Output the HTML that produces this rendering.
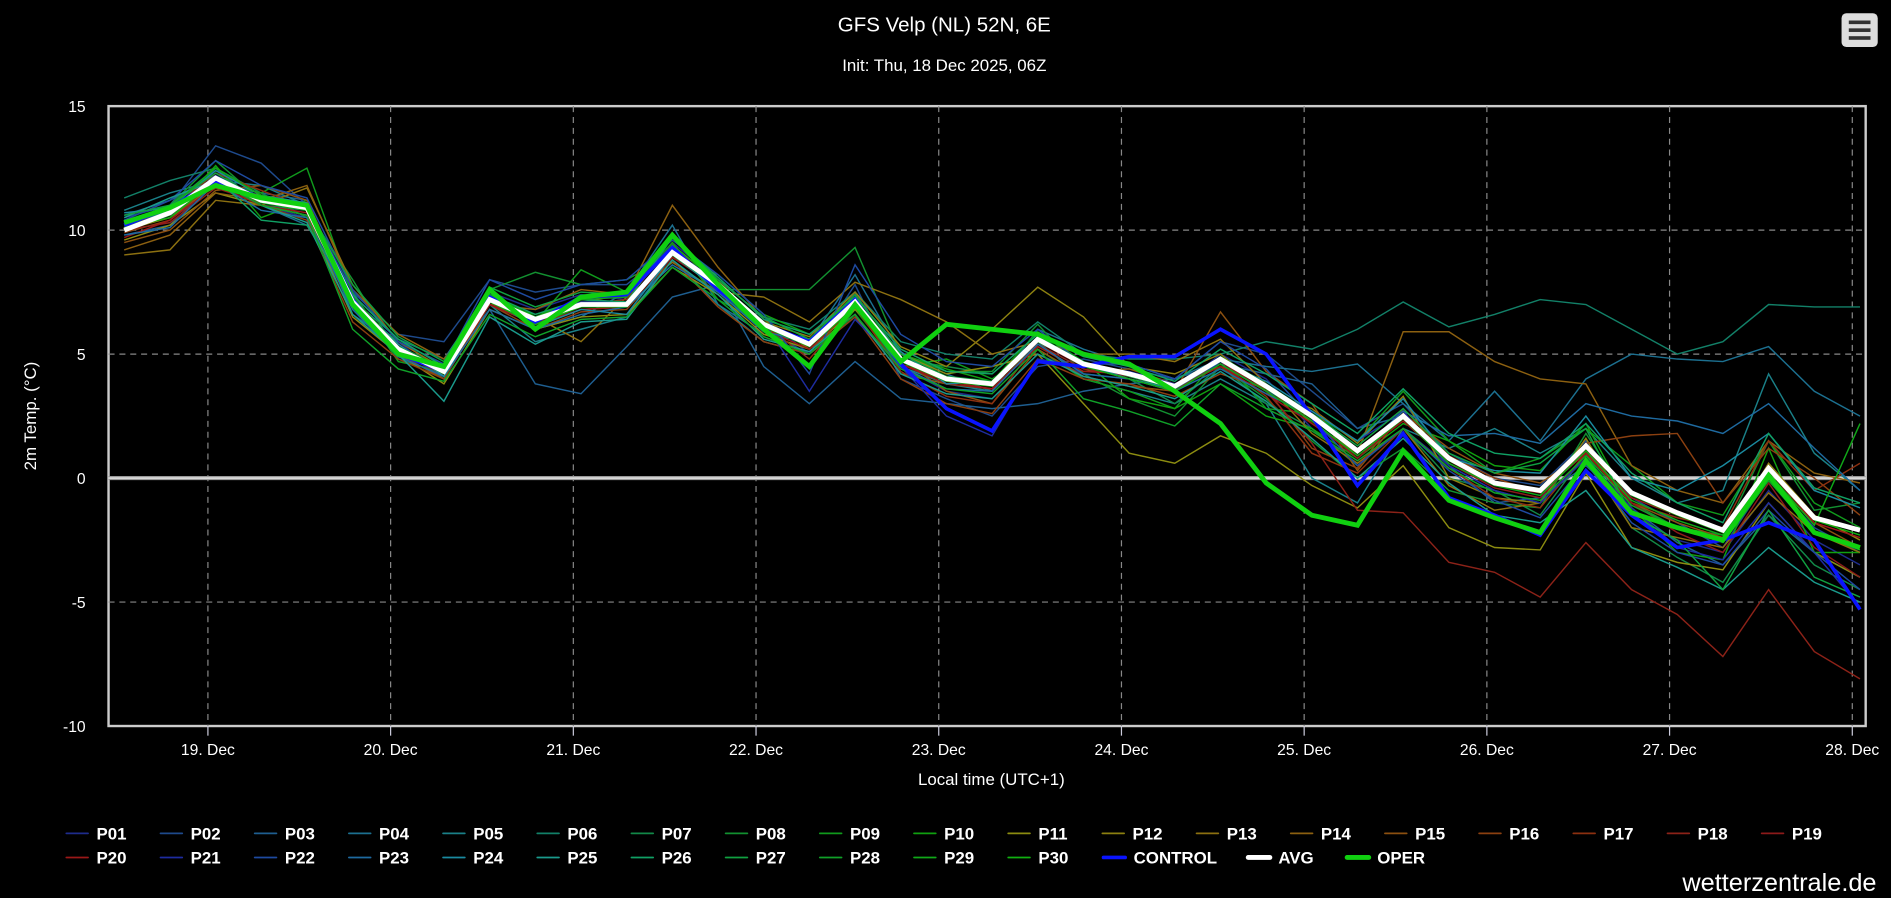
<!DOCTYPE html>
<html><head><meta charset="utf-8"><style>
html,body{margin:0;padding:0;background:#000;width:1891px;height:898px;overflow:hidden}
svg{display:block;font-family:"Liberation Sans",sans-serif}
</style></head><body>
<svg id="chart" width="1891" height="898" viewBox="0 0 1568 744.6">
<text x="783" y="26" fill="#fff" font-size="17" text-anchor="middle">GFS Velp (NL) 52N, 6E</text>
<text x="783" y="59" fill="#fff" font-size="14" text-anchor="middle">Init: Thu, 18 Dec 2025, 06Z</text>
<g><rect x="1527" y="11" width="30" height="28" rx="4" fill="#ddd"/><rect x="1533" y="17" width="18" height="3" fill="#333"/><rect x="1533" y="23.5" width="18" height="3" fill="#333"/><rect x="1533" y="30" width="18" height="3" fill="#333"/></g>
<text transform="translate(30,345) rotate(-90)" fill="#fff" font-size="14" text-anchor="middle">2m Temp. (°C)</text>
<text x="822" y="651" fill="#fff" font-size="14" text-anchor="middle">Local time (UTC+1)</text>
<text x="1556" y="739" fill="#fff" font-size="21" text-anchor="end">wetterzentrale.de</text>
<g id="grid"></g><g id="series"></g><g id="legend"></g>
</svg>
<script>
const yTicks=[15,10,5,0,-5,-10];
const dayLabels=["19. Dec","20. Dec","21. Dec","22. Dec","23. Dec","24. Dec","25. Dec","26. Dec","27. Dec","28. Dec"];
const avg=[10.0,10.7,12.1,11.2,10.9,7.1,5.2,4.3,7.2,6.4,7.0,7.0,9.1,7.8,6.2,5.4,7.1,4.8,4.0,3.8,5.6,4.6,4.2,3.7,4.8,3.7,2.5,1.1,2.5,0.8,-0.2,-0.5,1.3,-0.6,-1.4,-2.1,0.4,-1.6,-2.1];
const oper=[10.3,10.9,11.8,11.3,11.0,7.0,5.0,4.5,7.6,6.0,7.3,7.5,9.8,7.8,6.0,4.5,7.0,4.7,6.2,6.0,5.8,5.0,4.6,3.5,2.2,-0.2,-1.5,-1.9,1.1,-0.9,-1.6,-2.2,0.7,-1.4,-2.0,-2.5,0.1,-2.2,-2.8];
const control=[10.2,10.9,12.0,11.3,11.0,7.2,5.0,4.3,7.3,6.3,7.3,7.4,9.3,7.6,6.2,5.5,7.2,4.6,2.8,1.9,4.7,4.5,4.9,4.9,6.0,5.0,2.5,-0.3,1.8,-0.8,-1.5,-2.3,0.3,-1.5,-2.8,-2.5,-1.8,-2.5,-5.3];
const P01=[10.2,10.5,12.5,11.0,10.5,7.0,5.5,4.0,7.5,6.8,7.4,7.2,9.5,8.0,6.5,5.0,7.5,4.5,3.5,3.2,5.0,4.2,4.0,3.5,5.0,4.0,2.0,0.5,2.0,0.5,-0.5,-1.0,0.8,-1.5,-2.5,-3.0,-0.5,-2.5,-3.5];
const P02=[10.5,11.0,13.4,12.7,11.0,7.5,5.8,5.5,8.0,7.5,7.8,7.8,9.3,7.5,6.0,5.0,7.8,4.0,3.2,2.5,4.5,4.8,4.4,4.0,5.5,5.0,3.5,2.0,3.0,1.0,0.0,-0.3,1.5,-0.8,-1.8,-2.8,0.0,-2.0,-3.0];
const P03=[9.8,10.2,12.0,11.5,11.2,6.8,5.0,4.5,6.8,3.8,3.4,5.3,7.3,7.8,4.5,3.0,4.7,3.2,3.0,2.8,3.0,3.5,3.8,4.0,4.6,4.2,3.8,2.0,2.5,0.5,-1.0,-0.8,0.5,-1.2,-2.6,-3.5,-1.5,-3.0,-4.0];
const P04=[10.6,11.2,12.2,11.0,10.2,7.2,5.6,4.8,7.5,6.0,6.5,7.5,10.2,7.0,5.8,5.5,8.2,5.0,4.2,3.5,6.0,5.2,4.6,4.0,4.8,4.5,4.3,4.6,3.0,1.5,3.5,1.5,4.0,5.0,4.8,4.7,5.3,3.5,2.5];
const P05=[10.8,11.5,12.0,11.8,11.0,6.6,5.3,4.0,7.0,5.5,6.0,6.5,8.8,7.0,5.5,5.0,6.5,4.5,3.8,3.5,5.5,4.0,3.5,3.0,4.0,3.0,0.0,-1.0,2.0,1.2,2.0,1.0,2.0,0.0,-1.0,-0.5,4.2,1.0,-0.5];
const P06=[11.3,12.0,12.5,11.0,10.8,7.5,4.8,4.2,7.0,6.2,7.0,7.0,9.0,8.0,6.5,6.0,7.5,5.5,5.0,4.8,6.3,5.0,4.8,4.8,5.0,5.5,5.2,6.0,7.1,6.1,6.6,7.2,7.0,6.0,5.0,5.5,7.0,6.9,6.9];
const P07=[10.0,11.0,12.5,11.5,10.5,7.3,5.3,4.5,7.3,6.5,7.2,7.0,9.2,7.5,6.0,5.5,7.0,4.8,4.5,4.2,5.8,4.5,4.0,3.0,4.5,3.0,2.0,0.5,2.0,0.0,-0.5,-1.5,1.0,-2.0,-3.2,-4.2,-1.5,-3.5,-4.5];
const P08=[10.3,11.0,12.8,11.2,10.8,8.0,5.0,4.0,7.6,8.3,7.8,8.0,9.0,7.6,7.6,7.6,9.3,5.0,4.3,4.3,6.2,4.2,3.2,2.5,4.5,3.2,1.5,0.0,1.2,-0.5,-1.0,-1.2,1.8,-1.0,-2.0,-2.3,1.5,-1.3,-1.0];
const P09=[10.1,10.9,11.9,11.5,12.5,7.4,4.7,4.3,7.4,6.3,8.4,7.5,9.5,7.2,6.2,4.5,6.8,4.5,4.8,4.0,5.2,4.0,3.5,2.8,4.9,2.8,2.6,1.5,3.5,1.5,0.2,0.8,2.0,0.5,-1.0,-1.5,1.5,-1.0,-2.0];
const P10=[10.4,10.6,12.6,10.5,11.2,6.9,5.5,4.6,7.1,6.6,7.1,7.1,9.0,8.2,6.6,5.8,7.2,5.0,4.4,3.9,5.9,4.7,3.2,2.8,3.8,2.5,2.0,0.8,2.2,1.5,0.5,0.3,2.2,-1.2,-3.0,-3.3,1.2,-3.0,-3.0];
const P11=[9.6,10.2,11.5,11.0,10.6,6.5,5.0,3.8,6.8,6.0,6.5,6.6,8.5,7.4,5.8,5.2,6.8,5.0,4.2,4.5,5.0,3.0,1.0,0.6,1.7,1.0,-0.3,-1.2,0.5,-2.0,-2.8,-2.9,0.2,-2.8,-3.4,-3.7,-1.0,-3.0,-4.0];
const P12=[10.0,10.5,11.8,11.4,11.0,7.0,5.2,4.3,7.4,6.4,7.3,7.0,8.9,7.8,6.3,5.7,7.5,5.3,4.5,6.0,7.7,6.5,4.5,4.2,5.0,3.5,2.8,1.4,3.3,0.0,-0.8,-1.0,1.6,-1.5,-2.0,-2.5,0.6,-1.5,-2.5];
const P13=[9.0,9.2,11.2,11.0,11.7,7.8,5.5,4.4,7.2,6.5,5.5,7.3,8.7,7.5,7.3,6.3,7.9,7.2,6.3,5.0,5.5,5.0,5.0,4.7,5.6,3.8,1.8,0.6,2.0,-0.3,-1.3,-1.0,0.8,-2.0,-2.4,-2.8,-0.6,-2.2,-3.0];
const P14=[9.2,9.8,11.5,11.2,11.8,7.6,5.8,4.8,7.0,6.8,7.6,7.4,11.0,8.5,6.4,5.2,6.6,4.2,3.8,3.6,5.3,4.3,4.4,3.8,4.5,3.8,2.2,1.0,5.9,5.9,4.7,4.0,3.8,0.5,-0.5,-1.0,1.5,0.2,-0.2];
const P15=[9.5,10.0,11.6,11.8,11.2,7.2,5.0,4.0,7.6,6.1,6.8,6.9,9.3,8.0,6.0,5.4,7.0,4.8,3.5,3.0,5.2,4.1,3.7,3.5,6.7,4.3,3.0,0.3,2.6,1.2,0.2,-0.2,1.0,-1.0,-1.8,-2.4,0.0,-1.8,-2.8];
const P16=[9.9,10.4,12.0,11.0,10.4,6.3,4.8,4.0,7.0,6.0,6.7,6.8,8.8,6.9,5.5,5.0,6.5,4.0,3.0,2.6,4.8,4.0,3.8,3.3,4.2,3.6,1.2,0.4,2.8,0.9,0.0,-0.6,1.4,1.7,1.8,-1.0,1.2,0.0,-1.5];
const P17=[10.2,10.8,12.3,11.6,10.9,7.3,5.3,4.1,7.3,6.2,7.0,7.2,9.4,7.9,6.2,4.8,6.9,4.3,3.3,3.0,5.5,4.5,4.0,3.6,4.6,3.3,1.0,0.2,2.0,0.4,-0.8,-1.2,1.0,-1.0,-1.6,-2.0,1.5,-0.5,0.6];
const P18=[10.0,10.3,11.7,11.1,11.0,7.0,5.1,4.2,7.1,6.3,6.9,7.0,9.0,7.7,6.1,5.3,7.0,4.6,3.8,3.6,5.4,4.4,4.1,3.6,4.7,3.5,1.4,-1.3,-1.4,-3.4,-3.8,-4.8,-2.6,-4.5,-5.5,-7.2,-4.5,-7.0,-8.1];
const P19=[10.3,10.6,11.9,11.3,11.1,7.2,5.2,4.3,7.0,6.4,7.1,7.0,9.0,7.8,6.2,5.3,7.2,4.8,4.0,3.7,5.5,4.5,4.1,3.7,4.8,3.6,2.3,0.8,2.4,0.6,-0.4,-0.8,1.2,-1.0,-2.2,-3.0,-0.2,-2.8,-4.0];
const P20=[9.7,10.4,11.8,11.0,10.7,7.0,5.0,4.2,7.0,6.2,6.8,6.9,8.9,7.7,6.0,5.2,6.9,4.6,3.9,3.6,5.3,4.3,4.2,3.6,4.5,3.4,2.2,0.9,2.3,0.7,-0.3,-0.6,1.0,-0.8,-1.5,-2.2,0.3,-1.8,-2.4];
const P21=[10.1,10.7,12.2,11.3,10.8,7.1,5.3,4.4,7.3,6.5,7.1,7.1,9.2,7.9,6.3,3.5,6.4,4.5,2.5,1.7,4.8,4.5,4.3,3.8,4.6,3.5,2.7,1.5,2.7,0.5,-0.5,-1.0,0.8,-1.2,-2.8,-3.3,-1.0,-3.0,-5.2];
const P22=[10.4,11.2,12.8,11.8,11.3,7.6,5.5,4.6,8.0,7.2,7.8,8.0,9.6,8.2,6.6,4.2,8.6,5.8,4.7,4.5,6.0,4.6,4.6,4.0,5.5,4.4,2.4,0.5,2.0,0.3,-0.9,-1.6,0.6,-1.8,-3.0,-3.5,-1.3,-3.0,-4.5];
const P23=[9.8,10.1,11.9,10.8,10.5,6.8,4.9,4.1,6.8,6.0,6.6,6.9,8.6,7.5,5.9,5.5,7.0,4.5,3.6,3.5,5.4,4.2,4.0,3.5,4.4,3.4,2.5,1.0,2.7,1.7,1.8,1.4,3.0,2.5,2.3,1.8,3.0,1.2,-0.5];
const P24=[10.7,10.9,12.4,11.4,11.1,7.2,5.4,4.1,7.2,6.1,6.8,6.6,9.0,7.6,6.1,5.6,7.0,5.1,3.8,3.9,5.5,4.6,4.0,3.6,4.7,3.9,2.7,1.5,3.2,0.8,0.3,0.2,2.5,0.0,-0.5,0.5,1.8,-0.5,-1.2];
const P25=[10.5,11.3,12.0,11.0,10.3,6.6,5.0,3.1,6.5,5.4,6.3,6.4,8.8,7.4,5.6,5.1,6.6,4.2,3.4,3.2,5.0,4.1,3.7,3.2,4.3,3.1,1.6,0.0,1.6,-0.2,-1.5,-1.8,-0.5,-2.8,-3.6,-4.5,-2.8,-4.2,-5.0];
const P26=[10.2,10.8,12.1,10.4,10.2,7.4,5.6,4.5,7.4,6.6,7.2,7.1,9.7,8.1,6.4,5.8,7.3,5.2,4.3,4.2,5.8,4.9,4.5,3.9,5.2,4.2,3.0,1.8,3.6,1.8,1.0,0.8,2.2,0.2,-1.0,-1.8,1.8,-0.4,-1.0];
const P27=[10.6,11.0,12.3,11.2,10.9,7.8,5.7,4.7,7.7,6.9,7.5,7.4,9.8,8.0,6.5,5.6,7.4,5.0,4.1,3.9,5.7,4.7,4.1,3.6,4.9,3.8,2.6,1.3,2.8,1.0,0.2,0.6,2.0,-1.5,-2.5,-4.5,-1.3,-4.0,-4.8];
const P28=[10.0,10.6,12.0,11.0,10.6,6.0,4.4,3.9,6.6,5.7,6.4,6.5,8.5,7.2,5.7,5.0,6.6,4.4,3.6,3.4,5.2,3.2,2.7,2.1,3.8,2.8,1.9,0.7,2.0,0.4,-0.6,-0.9,0.9,-1.1,-2.0,-2.6,-0.1,-2.2,-2.9];
const P29=[10.3,10.9,12.5,11.4,11.0,7.3,5.3,4.4,7.4,6.5,7.2,7.3,9.4,7.9,6.3,5.4,7.1,4.8,4.0,3.8,5.6,4.5,4.0,3.5,4.6,3.5,2.3,0.9,2.4,0.6,-0.3,-0.7,1.1,-0.9,-1.7,-2.3,0.2,-1.9,2.2];
const P30=[10.1,10.5,12.0,11.1,10.8,7.0,5.1,4.2,7.1,6.2,6.9,6.9,9.0,7.7,6.1,5.3,6.9,4.7,3.9,3.7,5.5,4.6,4.2,3.7,4.8,3.6,2.4,1.0,2.5,0.7,-0.2,-0.5,1.2,-0.7,-1.5,-2.2,0.3,-1.7,-2.3];
const members=[P01,P02,P03,P04,P05,P06,P07,P08,P09,P10,P11,P12,P13,P14,P15,P16,P17,P18,P19,P20,P21,P22,P23,P24,P25,P26,P27,P28,P29,P30];
const colors=["#1e2c8c","#1e4a8c","#1e5e90","#1c7090","#1a8088","#128068","#128848","#129030","#109a1c","#10a010","#8c8c10","#8c8010","#8c7010","#8c6010","#8c5010","#8c4010","#8c3010","#8c2218","#8c1a1a","#9a1818","#1e2ca0","#1e4aa0","#1e6aa0","#1a8aa0","#1a9a8c","#10a064","#10a040","#10a028","#10a818","#10b010"];
const NS='http://www.w3.org/2000/svg';
const L=90,R=1547,T=88,B=602;
function yS(v){return T+(15-v)*(B-T)/25;}
function xS(i){return 103+i*6*151.5/24;}
function xDay(d){return 172.4+d*151.5;}
const grid=document.getElementById('grid'),ser=document.getElementById('series'),leg=document.getElementById('legend');
function mk(tag,attrs,parent){const e=document.createElementNS(NS,tag);for(const k in attrs)e.setAttribute(k,attrs[k]);parent.appendChild(e);return e;}
const bg=mk('rect',{x:L,y:T,width:R-L,height:B-T,fill:'#000',stroke:'#ccc','stroke-width':2},grid);


yTicks.forEach(v=>{
  const y=yS(v);
  if(v!==15&&v!==-10&&v!==0){const g=mk('line',{x1:L,x2:R,y1:y,y2:y,stroke:'#888','stroke-dasharray':'5,4','stroke-width':1},grid);
  
  }
  const t=mk('text',{x:71,y:y+5,fill:'#fff','font-size':13,'text-anchor':'end'},grid);
  
  
  t.textContent=v;
});
dayLabels.forEach((lab,d)=>{
  const x=xDay(d);
  const g=mk('line',{x1:x,x2:x,y1:T,y2:B,stroke:'#888','stroke-dasharray':'5,4','stroke-width':1},grid);
  
  
  mk('line',{x1:x,x2:x,y1:B,y2:B+8,stroke:'#ccd','stroke-width':1},grid);
  const t=mk('text',{x:x,y:626,fill:'#fff','font-size':13,'text-anchor':'middle'},grid);
  
  
  t.textContent=lab;
});
const z0=yS(0);
mk('line',{x1:L,x2:R,y1:z0,y2:z0,stroke:'#999','stroke-width':3.5},grid);
const zl=mk('line',{x1:L,x2:R,y1:z0,y2:z0,stroke:'#fff','stroke-width':1},grid);


function pts(a){return a.map((v,i)=>xS(i).toFixed(1)+','+yS(v).toFixed(1)).join(' ');}
members.forEach((m,k)=>{
  const p=mk('polyline',{points:pts(m),fill:'none',stroke:colors[k],'stroke-width':1.2},ser);
  
  
});
const cl=mk('polyline',{points:pts(control),fill:'none',stroke:'#0a14ff','stroke-width':3},ser);


const al=mk('polyline',{points:pts(avg),fill:'none',stroke:'#fff','stroke-width':4},ser);


const ol=mk('polyline',{points:pts(oper),fill:'none',stroke:'#10d010','stroke-width':4},ser);


const legItems=[];
for(let k=0;k<30;k++)legItems.push({n:'P'+String(k+1).padStart(2,'0'),c:colors[k],w:1.5});
legItems.push({n:'CONTROL',c:'#0a14ff',w:3},{n:'AVG',c:'#fff',w:4},{n:'OPER',c:'#10d010',w:4});
const extraX={'CONTROL':940,'AVG':1060,'OPER':1142};
legItems.forEach((it,i)=>{
  const row=i<19?0:1, col=i<19?i:i-19;
  const tx=extraX[it.n]||(80+col*78.1);
  const y=row?711:691;
  const g=mk('g',{},leg);
  
  
  mk('line',{x1:tx-25,x2:tx-7,y1:y,y2:y,stroke:it.c,'stroke-width':it.w,'stroke-linecap':'round'},g);
  const t=mk('text',{x:tx,y:y+5,fill:'#fff','font-size':14,'font-weight':'bold'},g);
  t.textContent=it.n;
});
</script>
</body></html>
